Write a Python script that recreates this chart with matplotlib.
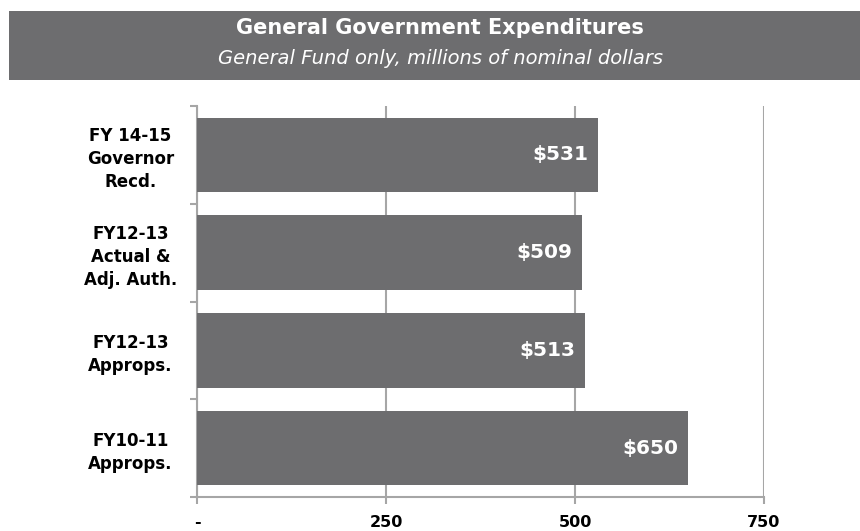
import matplotlib
matplotlib.use("Agg")
import matplotlib.pyplot as plt
from matplotlib.patches import Rectangle

categories = ["FY 14-15\nGovernor\nRecd.", "FY12-13\nActual &\nAdj. Auth.", "FY12-13\nApprops.", "FY10-11\nApprops."]
values = [531, 509, 513, 650]
xticks = [0, 250, 500, 750]
xticklabels = ["-", "250", "500", "750"]
title = "General Government Expenditures"
subtitle = "General Fund only, millions of nominal dollars"

bar_color = "#6d6d6f"
grid_color = "#a6a6a6"

plt.rcParams['font.family'] = ['DejaVu Sans']
fig = plt.figure(figsize=(8.6, 5.31), dpi=100)

# banner
fig.patches.append(Rectangle((9/860, 1-80/531), 1-9/860, 69/531, transform=fig.transFigure,
                             facecolor=bar_color, edgecolor='none', zorder=0))
fig.text(440/860, 1-28/531, title, ha='center', va='center', color='white', fontsize=15, fontweight='bold')
fig.text(440/860, 1-58/531, subtitle, ha='center', va='center', color='white', fontsize=14, style='italic')

ax = fig.add_axes([197/860, 1-497/531, (764-197)/860, (497-106)/531])
n = len(categories)
ypos = list(range(n))
ax.barh(ypos, values, height=0.76, color=bar_color, zorder=3)
ax.set_ylim(n-0.5, -0.5)
ax.set_xlim(0, 750)

ax.set_xticks(xticks)
ax.set_xticklabels(xticklabels, fontsize=11.5, fontweight='bold')
ax.set_yticks([i - 0.5 for i in range(n+1)], minor=False)
ax.set_yticklabels([])
ax.set_yticks(ypos, minor=True)
ax.set_yticklabels(categories, minor=True, fontsize=12, fontweight='bold', ha='center',
                   multialignment='center', linespacing=1.35)
ax.tick_params(axis='y', which='minor', length=0, pad=48)
ax.tick_params(axis='y', which='major', length=5, width=1.5, color=grid_color, direction='out')
ax.tick_params(axis='x', length=5, width=1.5, color=grid_color, direction='out', pad=8)

for s in ['top', 'right']:
    ax.spines[s].set_visible(False)
for s in ['left', 'bottom']:
    ax.spines[s].set_color(grid_color)
    ax.spines[s].set_linewidth(1.5)

ax.xaxis.grid(True, color=grid_color, linewidth=1.5, zorder=0)
ax.set_axisbelow(True)

for y, v in zip(ypos, values):
    ax.text(v - 13, y, f"${v}", ha='right', va='center', color='white', fontsize=14.5, fontweight='bold', zorder=4)

fig.savefig("out.png", dpi=100)
